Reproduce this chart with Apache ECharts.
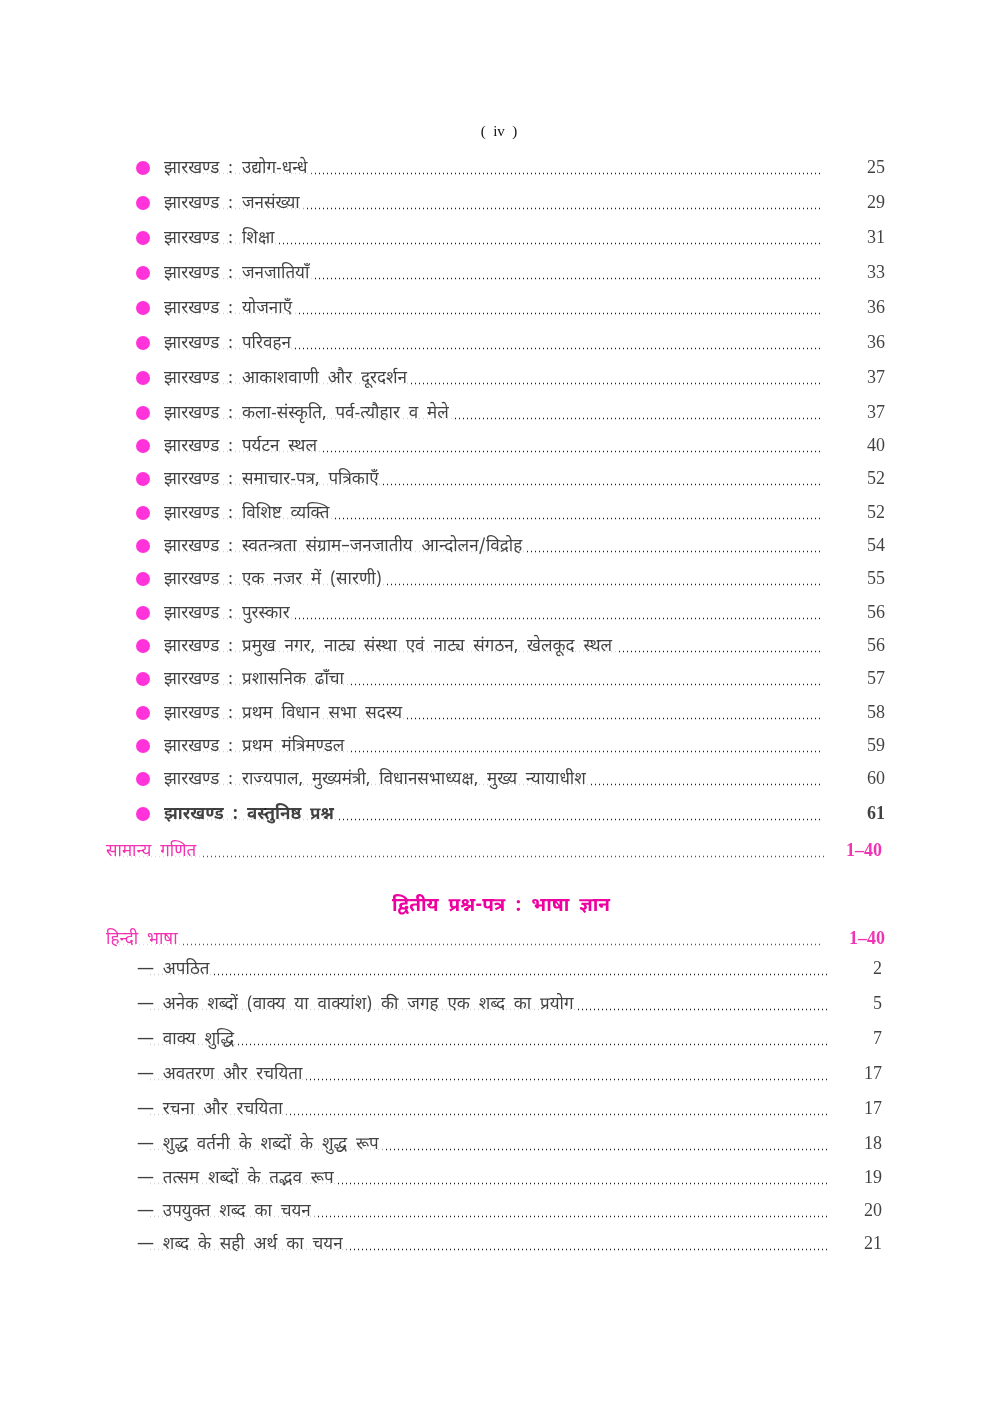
<!DOCTYPE html>
<html lang="hi">
<head>
<meta charset="UTF-8">
<title>विषय सूची</title>
<style>
    html, body { margin: 0; background: #fff; }
    #echart { width: 992px; height: 1403px; }
</style>
</head>
<body>
<div id="echart"></div>
<script src="https://cdn.jsdelivr.net/npm/echarts@6/dist/echarts.min.js"></script>
<script>
    const myChart = echarts.init(document.getElementById("echart"));

    // section 1: Jharkhand topics
    const topics1 = [
        "झारखण्ड : उद्योग-धन्धे", "झारखण्ड : जनसंख्या", "झारखण्ड : शिक्षा", "झारखण्ड : जनजातियाँ",
        "झारखण्ड : योजनाएँ", "झारखण्ड : परिवहन", "झारखण्ड : आकाशवाणी और दूरदर्शन",
        "झारखण्ड : कला-संस्कृति, पर्व-त्यौहार व मेले", "झारखण्ड : पर्यटन स्थल",
        "झारखण्ड : समाचार-पत्र, पत्रिकाएँ", "झारखण्ड : विशिष्ट व्यक्ति",
        "झारखण्ड : स्वतन्त्रता संग्राम–जनजातीय आन्दोलन/विद्रोह", "झारखण्ड : एक नजर में (सारणी)",
        "झारखण्ड : पुरस्कार", "झारखण्ड : प्रमुख नगर, नाट्य संस्था एवं नाट्य संगठन, खेलकूद स्थल",
        "झारखण्ड : प्रशासनिक ढाँचा", "झारखण्ड : प्रथम विधान सभा सदस्य", "झारखण्ड : प्रथम मंत्रिमण्डल",
        "झारखण्ड : राज्यपाल, मुख्यमंत्री, विधानसभाध्यक्ष, मुख्य न्यायाधीश", "झारखण्ड : वस्तुनिष्ठ प्रश्न"
    ];
    const pages1 = ["25", "29", "31", "33", "36", "36", "37", "37", "40", "52", "52", "54", "55", "56", "56", "57", "58", "59", "60", "61"];
    const rowY1 = [168, 203, 238, 273, 308, 343, 378, 413, 446, 479, 513, 546, 579, 613, 646, 679, 713, 746, 779, 814];

    // section 2: Hindi topics
    const topics2 = [
        "अपठित", "अनेक शब्दों (वाक्य या वाक्यांश) की जगह एक शब्द का प्रयोग", "वाक्य शुद्धि",
        "अवतरण और रचयिता", "रचना और रचयिता", "शुद्ध वर्तनी के शब्दों के शुद्ध रूप",
        "तत्सम शब्दों के तद्भव रूप", "उपयुक्त शब्द का चयन", "शब्द के सही अर्थ का चयन"
    ];
    const pages2 = ["2", "5", "7", "17", "17", "18", "19", "20", "21"];
    const rowY2 = [969, 1004, 1039, 1074, 1109, 1144, 1178, 1211, 1244];

    // magenta headings
    const heads = ["सामान्य गणित", "हिन्दी भाषा"];
    const headPages = ["1–40", "1–40"];
    const headY = [851, 939];

    const MAG = "#ee00a0";
    const HINDI = "'Noto Sans Devanagari', 'Noto Sans', 'Lohit Devanagari', sans-serif";
    const SERIF = "'Liberation Serif', 'DejaVu Serif', serif";

    // spaces widened to match the loose typesetting of the page
    const loose = (s) => s.replace(/ /g, "  ");

    const textLabel = (extra) => Object.assign({
        show: true, position: "right", distance: 0, color: "#111",
        fontFamily: HINDI, fontSize: 17, backgroundColor: "#fff", padding: [2, 4, 2, 0],
        formatter: (p) => p.data.name
    }, extra);
    const pageLabel = (extra) => Object.assign({
        show: true, position: "left", distance: 0, color: "#111",
        fontFamily: SERIF, fontSize: 18, formatter: (p) => p.data.name
    }, extra);

    const leaders = [];
    rowY1.forEach((y) => leaders.push({ coords: [[175, y + 5], [822, y + 5]] }));
    rowY2.forEach((y) => leaders.push({ coords: [[150, y + 5], [827, y + 5]] }));
    leaders.push({ coords: [[115, headY[0] + 5], [827, headY[0] + 5]], lineStyle: { color: MAG } });
    leaders.push({ coords: [[115, headY[1] + 5], [822, headY[1] + 5]], lineStyle: { color: MAG } });

    const option = {
        animation: false,
        grid: { left: 0, right: 0, top: 0, bottom: 0 },
        xAxis: { type: "value", min: 0, max: 992, show: false },
        yAxis: { type: "value", min: 0, max: 1403, inverse: true, show: false },
        title: [
            { text: "(  iv  )", left: 494, top: 120, textAlign: "center",
              textStyle: { fontFamily: SERIF, fontSize: 15, fontWeight: "normal", color: "#111" } },
            { text: "द्वितीय  प्रश्न-पत्र  :  भाषा  ज्ञान", left: 496, top: 893, textAlign: "center",
              textStyle: { fontFamily: HINDI, fontSize: 19, fontWeight: "bold", color: MAG } }
        ],
        series: [
            {
                type: "lines", coordinateSystem: "cartesian2d", z: 1, silent: true,
                lineStyle: { color: "#222", width: 1.3, type: [1, 3], opacity: 1 },
                data: leaders
            },
            {
                type: "scatter", z: 2, symbol: "circle", symbolSize: 14,
                itemStyle: { color: "#ff00d0" },
                data: rowY1.map((y) => [143, y])
            },
            {
                type: "scatter", z: 3, symbolSize: 0,
                label: textLabel(),
                data: topics1.map((t, i) => ({
                    name: loose(t), value: [164, rowY1[i] + 2],
                    label: i === topics1.length - 1 ? { fontWeight: "bold" } : {}
                }))
            },
            {
                type: "scatter", z: 3, symbolSize: 0,
                label: pageLabel(),
                data: pages1.map((p, i) => ({
                    name: p, value: [885, rowY1[i]],
                    label: i === pages1.length - 1 ? { fontWeight: "bold" } : {}
                }))
            },
            {
                type: "scatter", z: 3, symbolSize: 0,
                label: textLabel(),
                data: topics2.map((t, i) => ({ name: "—  " + loose(t), value: [137, rowY2[i] + 2] }))
            },
            {
                type: "scatter", z: 3, symbolSize: 0,
                label: pageLabel(),
                data: pages2.map((p, i) => ({ name: p, value: [882, rowY2[i]] }))
            },
            {
                type: "scatter", z: 3, symbolSize: 0,
                label: textLabel({ color: MAG }),
                data: heads.map((t, i) => ({ name: loose(t), value: [106, headY[i] + 2] }))
            },
            {
                type: "scatter", z: 3, symbolSize: 0,
                label: pageLabel({ color: MAG, fontWeight: "bold" }),
                data: headPages.map((p, i) => ({ name: p, value: [i === 0 ? 882 : 885, headY[i]] }))
            }
        ]
    };

    myChart.setOption(option);
</script>
</body>
</html>
